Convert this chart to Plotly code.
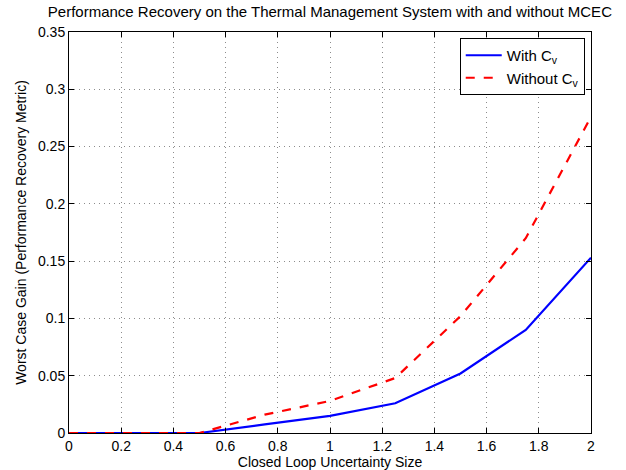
import plotly.graph_objects as go

x_vals = [0, 0.25, 0.5, 0.75, 1.0, 1.25, 1.5, 1.75, 2.0]
with_cv = [0, 0, 0, 0.0075, 0.015, 0.026, 0.052, 0.090, 0.153]
without_cv = [0, 0, 0, 0.016, 0.028, 0.048, 0.102, 0.170, 0.276]
x_ticks = [0, 0.2, 0.4, 0.6, 0.8, 1, 1.2, 1.4, 1.6, 1.8, 2]
x_tick_text = ["0", "0.2", "0.4", "0.6", "0.8", "1", "1.2", "1.4", "1.6", "1.8", "2"]
y_ticks = [0, 0.05, 0.1, 0.15, 0.2, 0.25, 0.3, 0.35]
y_tick_text = ["0", "0.05", "0.1", "0.15", "0.2", "0.25", "0.3", "0.35"]

FONT = "Liberation Sans, Arial, Helvetica, sans-serif"

fig = go.Figure()
fig.add_trace(go.Scatter(x=x_vals, y=with_cv, mode="lines", name="With C<sub>v</sub>",
                         line=dict(color="#0000ff", width=2.2)))
fig.add_trace(go.Scatter(x=x_vals, y=without_cv, mode="lines", name="Without C<sub>v</sub>",
                         line=dict(color="#ff0000", width=2.2, dash="dash")))

axis_common = dict(
    showline=True, linecolor="black", linewidth=1, mirror="ticks",
    ticks="inside", ticklen=5, tickcolor="black",
    showgrid=True, gridcolor="#8c8c8c", griddash="1px,4px", gridwidth=1,
    zeroline=False, tickfont=dict(family=FONT, size=14, color="black"),
    automargin=False,
)

fig.update_layout(
    width=626, height=470,
    margin=dict(l=69, r=35, t=32, b=37),
    paper_bgcolor="white", plot_bgcolor="white",
    font=dict(family=FONT, size=14, color="black"),
    title=dict(text="Performance Recovery on the Thermal Management System with and without MCEC",
               x=0.527, xanchor="center", y=0.974, yanchor="middle",
               font=dict(family=FONT, size=15, color="black")),
    xaxis=dict(range=[0, 2], tickvals=x_ticks, ticktext=x_tick_text,
               title=dict(text="Closed Loop Uncertainty Size", standoff=2,
                          font=dict(family=FONT, size=14)),
               **axis_common),
    yaxis=dict(range=[0, 0.35], tickvals=y_ticks, ticktext=y_tick_text,
               title=dict(text="Worst Case Gain (Performance Recovery Metric)", standoff=8,
                          font=dict(family=FONT, size=14)),
               **axis_common),
    legend=dict(x=0.988, y=0.985, xanchor="right", yanchor="top",
                bgcolor="white", bordercolor="black", borderwidth=1,
                font=dict(family=FONT, size=15, color="black"),
                tracegroupgap=0, itemwidth=36),
    showlegend=True,
)

fig.write_html("out.html", config={"displayModeBar": False},
               post_script="document.body.style.margin='0';")
